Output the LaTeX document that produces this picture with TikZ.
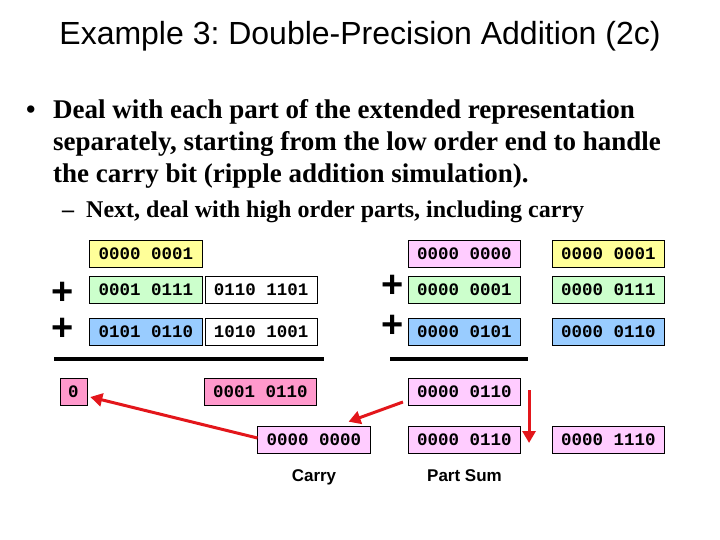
\documentclass[tikz,border=0pt]{standalone}
\usepackage{fontspec}
\setmainfont{Liberation Serif}
\setsansfont{Liberation Sans}
\setmonofont{Liberation Mono}
\usetikzlibrary{arrows.meta,positioning}
\definecolor{BitYellow}{HTML}{FFFF99}
\definecolor{BitGreen}{HTML}{CCFFCC}
\definecolor{BitBlue}{HTML}{99CCFF}
\definecolor{BitPink}{HTML}{FFCCFF}
\definecolor{BitRose}{HTML}{FF99CC}
\definecolor{ArrowRed}{HTML}{E3161B}
\frenchspacing

\begin{document}
\begin{tikzpicture}[x=1pt, y=-1pt,
  bits/.style={draw=black, line width=0.6pt, minimum width=112.5pt,
               minimum height=27pt, inner sep=0pt,
               font=\ttfamily\bfseries\fontsize{17.5}{20}\selectfont},
  plus/.style={inner sep=0pt, font=\sffamily\bfseries\fontsize{38}{42}\selectfont},
  rule/.style={line width=4pt},
  flow/.style={draw=ArrowRed, line width=3pt, -{Triangle[length=12pt,width=13pt]}},
  txt/.style={anchor=base west, inner sep=0pt},
  tag/.style={inner sep=0pt, font=\sffamily\bfseries\fontsize{17}{20}\selectfont}]
  \useasboundingbox (0,0) rectangle (720,540);

  % title and bullets
  \node[anchor=base, inner sep=0pt, font=\sffamily\fontsize{32}{38}\selectfont]
    (title) at (360,45) {Example 3: Double-Precision Addition (2c)};
  \node[txt, font=\bfseries\fontsize{27}{32}\selectfont] (dot) at (26,119) {•};
  \node[txt, font=\bfseries\fontsize{27}{32}\selectfont] (l1) at (53,119)
    {Deal with each part of the extended representation};
  \node[txt, font=\bfseries\fontsize{27}{32}\selectfont] (l2) at (53,151)
    {separately, starting from the low order end to handle};
  \node[txt, font=\bfseries\fontsize{27}{32}\selectfont] (l3) at (53,183)
    {the carry bit (ripple addition simulation).};
  \node[txt, font=\bfseries\fontsize{24}{28}\selectfont] (dash) at (62,218) {–};
  \node[txt, font=\bfseries\fontsize{24}{28}\selectfont] (l4) at (86,218)
    {Next, deal with high order parts, including carry};

  % low order addition
  \node[bits, fill=BitYellow] (c1) at (146,254) {0000 0001};
  \node[bits, fill=BitGreen] (a1) at (146,289.5) {0001 0111};
  \node[bits, fill=white, right=2pt of a1] (a2) {0110 1101};
  \node[bits, fill=BitBlue] (b1) at (146,332) {0101 0110};
  \node[bits, fill=white, right=2pt of b1] (b2) {1010 1001};
  \node[plus] (p1) at (63,293) {+};
  \node[plus] (p2) at (63,329.5) {+};
  \draw[rule] (54,359) -- (324,359);
  \node[bits, fill=BitRose, minimum width=27pt] (c0) at (73.5,392) {0};
  \node[bits, fill=BitRose] (s1) at (260.5,392) {0001 0110};

  % high order addition
  \node[bits, fill=BitPink] (h0) at (464.5,254) {0000 0000};
  \node[bits, fill=BitGreen] (h1) at (464.5,289.5) {0000 0001};
  \node[bits, fill=BitBlue] (h2) at (464.5,332) {0000 0101};
  \node[plus] (p3) at (393,286.7) {+};
  \node[plus] (p4) at (393,326) {+};
  \draw[rule] (390,359) -- (528,359);
  \node[bits, fill=BitPink] (hs) at (464.5,392) {0000 0110};

  \node[bits, fill=BitYellow] (d1) at (608.5,254) {0000 0001};
  \node[bits, fill=BitGreen] (d2) at (608.5,289.5) {0000 0111};
  \node[bits, fill=BitBlue] (d3) at (608.5,332) {0000 0110};

  % carry and part sum
  \node[bits, fill=BitPink] (carry) at (314,440) {0000 0000};
  \node[bits, fill=BitPink] (psum) at (464.5,440) {0000 0110};
  \node[bits, fill=BitPink] (res) at (608.5,440) {0000 1110};
  \node[tag, below=16pt of carry] (lc) {Carry};
  \node[tag, below=16pt of psum] (lp) {Part Sum};

  \draw[flow] ([yshift=2pt]carry.west) -- ([xshift=3pt,yshift=-5pt]c0.east);
  \draw[flow] ([xshift=-5pt,yshift=-10pt]hs.west) -- ([xshift=-22pt,yshift=4.5pt]carry.north east);
  \draw[flow] ([xshift=8pt,yshift=2pt]hs.east) -- ([xshift=8pt,yshift=-3pt]psum.east);
\end{tikzpicture}
\end{document}
